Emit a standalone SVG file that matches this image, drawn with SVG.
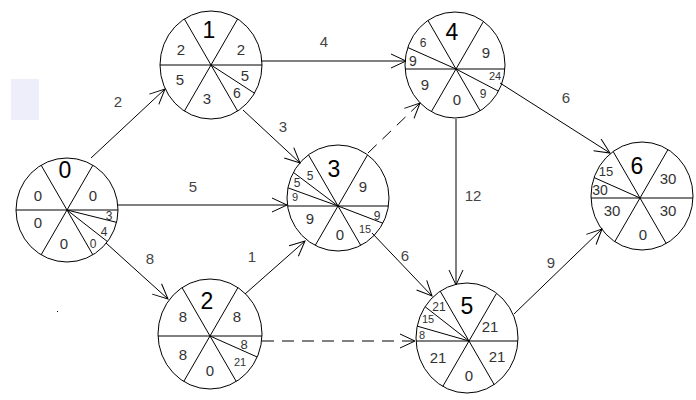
<svg xmlns="http://www.w3.org/2000/svg" width="696" height="400" viewBox="0 0 696 400">
<style>
.circ{fill:none;stroke:#000;stroke-width:1}
.sp{fill:none;stroke:#000;stroke-width:1}
.con{fill:none;stroke:#000;stroke-width:1;marker-end:url(#ah)}
.dash{stroke-dasharray:12 8}
text{font-family:"Liberation Sans",Arial,sans-serif;text-anchor:middle;fill:#333}
.big{font-size:23px;fill:#000}
.mid{font-size:15px}
.s14{font-size:14px}
.s13{font-size:13px}
.s12{font-size:12px}
.s11{font-size:11px}
.lbl{font-size:15px;fill:#444}
</style>
<defs>
<marker id="ah" markerUnits="userSpaceOnUse" markerWidth="20" markerHeight="20" viewBox="-17 -10 20 20" refX="0" refY="0" orient="auto">
<path d="M-15,-7 L0,0 L-15,7" fill="none" stroke="#000" stroke-width="1"/>
</marker>
<clipPath id="c0"><ellipse cx="67" cy="210" rx="51" ry="52"/></clipPath>
<clipPath id="c1"><ellipse cx="211" cy="65" rx="51" ry="54"/></clipPath>
<clipPath id="c2"><ellipse cx="210" cy="334" rx="52" ry="55"/></clipPath>
<clipPath id="c3"><ellipse cx="338" cy="198" rx="51" ry="53"/></clipPath>
<clipPath id="c4"><ellipse cx="455" cy="65" rx="50" ry="53"/></clipPath>
<clipPath id="c5"><ellipse cx="467" cy="338" rx="51" ry="55"/></clipPath>
<clipPath id="c6"><ellipse cx="642" cy="196" rx="51" ry="54"/></clipPath>
</defs>
<rect x="0" y="0" width="696" height="400" fill="#fff"/>
<rect x="11" y="79" width="28" height="41" fill="#eeeefb"/>
<rect x="57" y="311" width="1" height="1" fill="#000"/>

<g id="connectors">
<line class="con" x1="91" y1="158" x2="165" y2="89"/>
<line class="con" x1="261" y1="61" x2="406" y2="61"/>
<line class="con" x1="243" y1="110" x2="300" y2="163"/>
<line class="con" x1="118" y1="205" x2="287" y2="205"/>
<line class="con" x1="106" y1="243" x2="168" y2="299"/>
<line class="con" x1="245" y1="294" x2="305" y2="241"/>
<line class="con dash" x1="368" y1="153" x2="420" y2="103"/>
<line class="con dash" x1="262" y1="341" x2="415" y2="341"/>
<line class="con" x1="372" y1="233" x2="432" y2="296"/>
<line class="con" x1="456" y1="119" x2="456" y2="285"/>
<line class="con" x1="500" y1="83" x2="610" y2="153"/>
<line class="con" x1="514" y1="314" x2="602" y2="229"/>
<text class="lbl" x="118" y="107">2</text>
<text class="lbl" x="324" y="47">4</text>
<text class="lbl" x="283" y="132">3</text>
<text class="lbl" x="193" y="192">5</text>
<text class="lbl" x="150" y="264">8</text>
<text class="lbl" x="252" y="262">1</text>
<text class="lbl" x="405" y="261">6</text>
<text class="lbl" x="473" y="201">12</text>
<text class="lbl" x="566" y="103">6</text>
<text class="lbl" x="551" y="268">9</text>
</g>

<g id="node0">
<ellipse class="circ" cx="67" cy="210" rx="51" ry="52"/>
<g clip-path="url(#c0)">
<path class="sp" d="M-3,210 H137 M32,270.6 L102,149.4 M32,149.4 L102,270.6 M67,210 L134.9,226.9 M67,210 L122.2,253.1"/>
</g>
<text class="big" x="65" y="178">0</text>
<text class="mid" x="38" y="201">0</text>
<text class="mid" x="93" y="201">0</text>
<text class="mid" x="38" y="228">0</text>
<text class="mid" x="64" y="249">0</text>
<text class="s12" x="109" y="220">3</text>
<text class="s12" x="104" y="236">4</text>
<text class="s12" x="93" y="248">0</text>
</g>

<g id="node1">
<ellipse class="circ" cx="211" cy="65" rx="51" ry="54"/>
<g clip-path="url(#c1)">
<path class="sp" d="M141,65 H281 M176,125.6 L246,4.4 M176,4.4 L246,125.6 M211,65 L269.7,103.1"/>
</g>
<text class="big" x="209" y="38">1</text>
<text class="mid" x="181" y="55">2</text>
<text class="mid" x="241" y="55">2</text>
<text class="mid" x="180" y="85">5</text>
<text class="mid" x="207" y="104">3</text>
<text class="mid" x="245" y="81">5</text>
<text class="s14" x="237" y="98">6</text>
</g>

<g id="node2">
<ellipse class="circ" cx="210" cy="334" rx="52" ry="55"/>
<g clip-path="url(#c2)">
<path class="sp" d="M140,336 H280 M175,396.6 L245,275.4 M175,275.4 L245,396.6 M210,336 L274,364.5"/>
</g>
<text class="big" x="207" y="309">2</text>
<text class="mid" x="183" y="322">8</text>
<text class="mid" x="237" y="322">8</text>
<text class="mid" x="183" y="360">8</text>
<text class="mid" x="210" y="376">0</text>
<text class="s13" x="244" y="349">8</text>
<text class="s11" x="240" y="366">21</text>
</g>

<g id="node3">
<ellipse class="circ" cx="338" cy="198" rx="51" ry="53"/>
<g clip-path="url(#c3)">
<path class="sp" d="M268,206 H408 M303,266.6 L373,145.4 M303,145.4 L373,266.6 M338,206 L403.4,231.1 M338,206 L282.1,163.9 M338,206 L272.2,182.1"/>
</g>
<text class="big" x="334" y="177">3</text>
<text class="mid" x="363" y="192">9</text>
<text class="mid" x="310" y="224">9</text>
<text class="mid" x="340" y="240">0</text>
<text class="s12" x="377" y="220">9</text>
<text class="s11" x="365" y="233">15</text>
<text class="s12" x="310" y="180">5</text>
<text class="s12" x="297" y="187">5</text>
<text class="s11" x="295" y="201">9</text>
</g>

<g id="node4">
<ellipse class="circ" cx="455" cy="65" rx="50" ry="53"/>
<g clip-path="url(#c4)">
<path class="sp" d="M386,69 H526 M421,129.6 L491,8.4 M421,8.4 L491,129.6 M456,69 L392,40.5 M456,69 L518,101.4"/>
</g>
<text class="big" x="452" y="40">4</text>
<text class="mid" x="486" y="58">9</text>
<text class="mid" x="425" y="90">9</text>
<text class="mid" x="457" y="105">0</text>
<text class="s12" x="423" y="47">6</text>
<text class="s14" x="413" y="66">9</text>
<text class="s11" x="495" y="80">24</text>
<text class="s12" x="483" y="98">9</text>
</g>

<g id="node5">
<ellipse class="circ" cx="467" cy="338" rx="51" ry="55"/>
<g clip-path="url(#c5)">
<path class="sp" d="M399,341 H539 M434,401.6 L504,280.4 M434,280.4 L504,401.6 M469,341 L413.8,297.9 M469,341 L401.7,321.7"/>
</g>
<text class="big" x="467" y="314">5</text>
<text class="mid" x="490" y="332">21</text>
<text class="mid" x="438" y="363">21</text>
<text class="mid" x="469" y="381">0</text>
<text class="mid" x="497" y="362">21</text>
<text class="s12" x="439" y="311">21</text>
<text class="s11" x="428" y="323">15</text>
<text class="s11" x="422" y="339">8</text>
</g>

<g id="node6">
<ellipse class="circ" cx="642" cy="196" rx="51" ry="54"/>
<g clip-path="url(#c6)">
<path class="sp" d="M570,198 H710 M605,258.6 L675,137.4 M605,137.4 L675,258.6 M640,198 L576,169.5"/>
</g>
<text class="big" x="637" y="174">6</text>
<text class="mid" x="668" y="184">30</text>
<text class="mid" x="612" y="216">30</text>
<text class="mid" x="668" y="216">30</text>
<text class="mid" x="643" y="240">0</text>
<text class="s13" x="606" y="176">15</text>
<text class="s14" x="600" y="195">30</text>
</g>
</svg>
